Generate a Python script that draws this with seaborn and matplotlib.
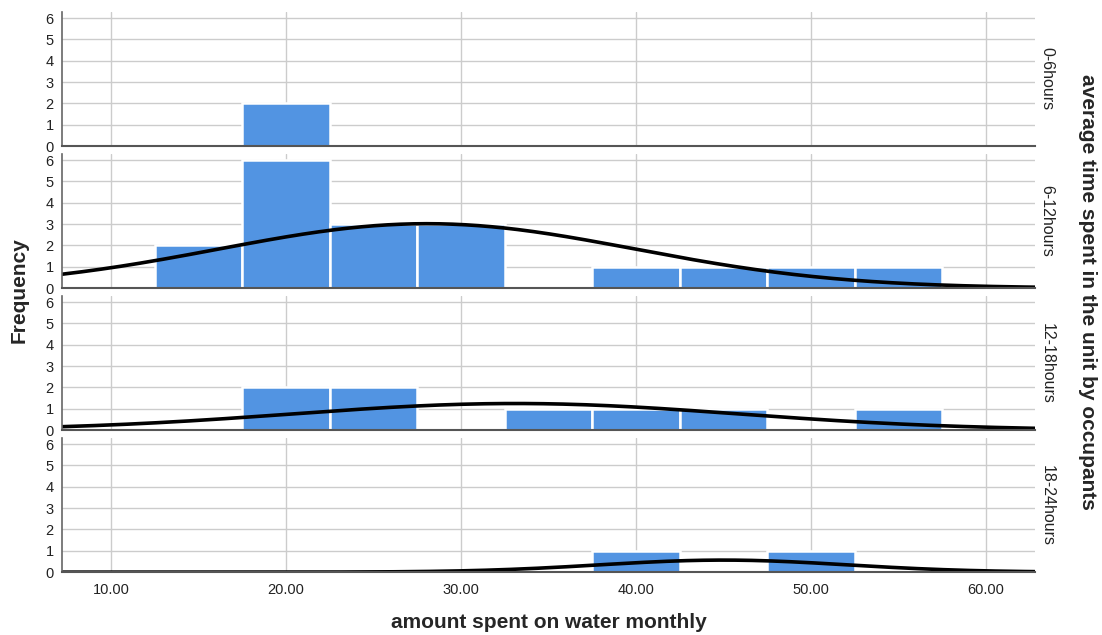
import numpy as np
import pandas as pd
import matplotlib
matplotlib.use('Agg')
import matplotlib.pyplot as plt
import seaborn as sns

# amount spent on water monthly, one list per occupancy group (values at bin centres)
groups = ['0-6hours', '6-12hours', '12-18hours', '18-24hours']
water_0_6 = [20, 20]
water_6_12 = [15, 15, 20, 20, 20, 20, 20, 20, 25, 25, 25, 30, 30, 30, 40, 45, 50, 55]
water_12_18 = [20, 20, 25, 25, 35, 40, 45, 55]
water_18_24 = [40, 50]
x_ticks = [10, 20, 30, 40, 50, 60]
x_tick_labels = ['10.00', '20.00', '30.00', '40.00', '50.00', '60.00']
y_ticks = [0, 1, 2, 3, 4, 5, 6]

df = pd.DataFrame({
    'amount': water_0_6 + water_6_12 + water_12_18 + water_18_24,
    'group': (['0-6hours'] * len(water_0_6) + ['6-12hours'] * len(water_6_12)
              + ['12-18hours'] * len(water_12_18) + ['18-24hours'] * len(water_18_24)),
})

sns.set_style('white')
plt.rcParams['font.family'] = ['Liberation Sans', 'DejaVu Sans']

fig, axes = plt.subplots(4, 1, figsize=(11.02, 6.35), dpi=100, sharex=True)
fig.subplots_adjust(left=0.0563, right=0.939, top=0.981, bottom=0.099, hspace=0.06)

bin_w = 5
xmin, xmax = 7.2, 62.8
xs = np.linspace(xmin, xmax, 300)

for ax, g in zip(axes, groups):
    vals = df.loc[df['group'] == g, 'amount']
    ax.set_axisbelow(True)
    ax.grid(True, color='#cccccc', linewidth=1)
    sns.histplot(x=vals, ax=ax, binwidth=bin_w, binrange=(7.5, 62.5),
                 color='#5294E2', alpha=1, edgecolor='white', linewidth=1.8)

    # fitted normal curve scaled to counts
    sd = vals.std(ddof=1)
    if sd > 0:
        mu = vals.mean()
        dens = len(vals) * bin_w * np.exp(-0.5 * ((xs - mu) / sd) ** 2) / (sd * np.sqrt(2 * np.pi))
        sns.lineplot(x=xs, y=dens, ax=ax, color='black', linewidth=2.6)

    ax.set_xlim(xmin, xmax)
    ax.set_ylim(0, 6.28)
    ax.set_yticks(y_ticks)
    ax.set_xticks(x_ticks)
    ax.set_xticklabels(x_tick_labels)
    ax.set_xlabel('')
    ax.set_ylabel('')
    ax.tick_params(axis='both', length=0, labelsize=10.5, colors='#222222', pad=3)
    ax.tick_params(axis='y', pad=6)
    for side in ['top', 'right']:
        ax.spines[side].set_visible(False)
    ax.spines['left'].set_color('#666666')
    ax.spines['left'].set_linewidth(1.2)
    ax.spines['bottom'].set_color('#555555')
    ax.spines['bottom'].set_linewidth(1.5)
    ax.text(1.005, 0.5, g, transform=ax.transAxes, rotation=-90,
            va='center', ha='left', fontsize=11.5, color='#222222')

axes[-1].tick_params(axis='x', pad=8)

fig.text(0.017, 0.543, 'Frequency', rotation=90, va='center', ha='center',
         fontsize=15, fontweight='bold')
fig.text(0.498, 0.019, 'amount spent on water monthly', va='center', ha='center',
         fontsize=15, fontweight='bold')
fig.text(0.987, 0.54, 'average time spent in the unit by occupants', rotation=-90,
         va='center', ha='center', fontsize=15, fontweight='bold')

plt.savefig('out.png', dpi=100)
